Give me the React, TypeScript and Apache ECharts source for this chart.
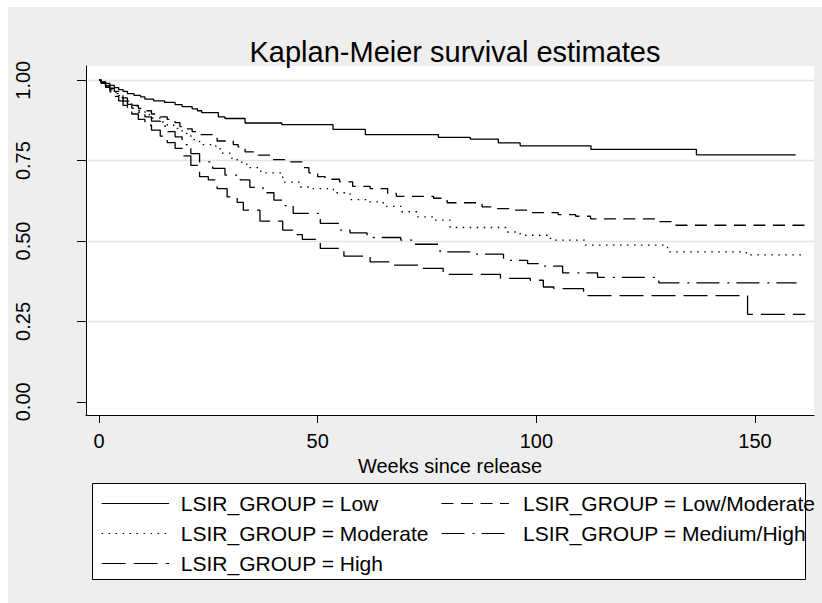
import React, { useEffect, useRef } from "react";
import * as echarts from "echarts";

const FONT = "'Liberation Sans', Arial, Helvetica, sans-serif";

const titleText = "Kaplan-Meier survival estimates";
const xAxisName = "Weeks since release";
const xTickValues = [0, 50, 100, 150];
const yTickValues = [0, 0.25, 0.5, 0.75, 1];
const yGridValues = [0.25, 0.5, 0.75, 1];
const groupNames = [
  "LSIR_GROUP = Low",
  "LSIR_GROUP = Low/Moderate",
  "LSIR_GROUP = Moderate",
  "LSIR_GROUP = Medium/High",
  "LSIR_GROUP = High",
];

// [weeks, survival] — KM step points
const lowCurve: [number, number][] = [
  [0, 1], [0.5, 0.995], [1.5, 0.99], [2.5, 0.984], [3.5, 0.977], [4.5, 0.971], [5.5, 0.965],
  [6.5, 0.958], [8, 0.953], [9.5, 0.948], [10.5, 0.941], [12.5, 0.936], [15, 0.931], [17.4, 0.924],
  [19, 0.918], [21.3, 0.911], [22.5, 0.905], [23.5, 0.899], [27.3, 0.886], [28.8, 0.881],
  [33.4, 0.867], [41.8, 0.862], [53.5, 0.847], [60.9, 0.831], [77.6, 0.822], [84.9, 0.817],
  [91.3, 0.805], [96.3, 0.796], [112.5, 0.785], [136.6, 0.768], [159.3, 0.768],
];

const lowModerateCurve: [number, number][] = [
  [0, 1], [0.5, 0.993], [1.5, 0.985], [2.5, 0.975], [3.5, 0.965], [4.5, 0.955], [5.5, 0.945],
  [6.5, 0.935], [7.5, 0.922], [9, 0.912], [10.5, 0.905], [12, 0.895], [14, 0.886], [15.6, 0.878],
  [17.4, 0.868], [18.5, 0.856], [19.7, 0.849], [21.3, 0.84], [23, 0.831], [26, 0.822], [27, 0.811],
  [30.7, 0.8], [31.8, 0.793], [33.4, 0.777], [36.4, 0.767], [39.5, 0.753], [43.3, 0.746],
  [46.5, 0.728], [48, 0.712], [50, 0.7], [51.7, 0.692], [55, 0.684], [58, 0.67], [62, 0.663],
  [66, 0.648], [68, 0.639], [76.5, 0.633], [79.6, 0.619], [87.6, 0.606], [90, 0.601], [94, 0.596],
  [98, 0.588], [105, 0.582], [109, 0.577], [112.4, 0.569], [128, 0.56], [131, 0.549], [161.5, 0.549],
];

const moderateCurve: [number, number][] = [
  [0, 1], [0.5, 0.993], [1.5, 0.984], [2.5, 0.974], [3.5, 0.963], [4.5, 0.952], [5.5, 0.942],
  [6.5, 0.932], [7.5, 0.92], [9, 0.905], [10.5, 0.893], [12, 0.882], [14, 0.87], [15.6, 0.86],
  [17.4, 0.85], [19, 0.835], [21, 0.815], [23, 0.8], [26, 0.795], [27.7, 0.773], [30, 0.758],
  [31.6, 0.745], [33.8, 0.728], [37, 0.712], [42, 0.683], [46, 0.668], [48, 0.663], [53.6, 0.65],
  [57.4, 0.629], [61.3, 0.622], [65, 0.608], [69, 0.591], [72.7, 0.575], [76.5, 0.565],
  [80.3, 0.542], [93.3, 0.528], [96.3, 0.518], [102.5, 0.508], [104, 0.503], [111, 0.487],
  [130, 0.466], [148, 0.457], [160.5, 0.457],
];

const mediumHighCurve: [number, number][] = [
  [0, 1], [0.5, 0.992], [1.5, 0.982], [2.5, 0.97], [3.5, 0.958], [4.5, 0.946], [5.5, 0.935],
  [6.5, 0.925], [7.5, 0.913], [9, 0.9], [10.5, 0.886], [12, 0.873], [14, 0.857], [15.6, 0.84],
  [17.4, 0.824], [19, 0.8], [21, 0.772], [23, 0.746], [26, 0.726], [28.8, 0.705], [32.3, 0.69],
  [34.5, 0.667], [37.5, 0.65], [40, 0.627], [42, 0.61], [44.4, 0.586], [50.6, 0.555], [55, 0.534],
  [57.4, 0.525], [61.3, 0.515], [62.7, 0.511], [69, 0.503], [72, 0.49], [78, 0.466], [85.6, 0.459],
  [92.5, 0.44], [98, 0.43], [101, 0.422], [106, 0.401], [114, 0.387], [128, 0.37], [159.5, 0.37],
];

const highCurve: [number, number][] = [
  [0, 1], [0.5, 0.99], [1.5, 0.978], [2.5, 0.964], [3.5, 0.95], [4.5, 0.936], [5.5, 0.922],
  [6.5, 0.908], [7.5, 0.895], [9, 0.878], [10.5, 0.86], [12, 0.845], [14, 0.826], [15.6, 0.806],
  [17.4, 0.788], [19, 0.765], [21, 0.735], [23, 0.7], [25, 0.69], [27, 0.663], [29.3, 0.637],
  [31.6, 0.62], [33, 0.596], [36.8, 0.562], [42, 0.534], [45.3, 0.52], [46.5, 0.505], [50.6, 0.477],
  [56, 0.453], [62, 0.435], [67.3, 0.425], [73.5, 0.415], [78.7, 0.396], [91.8, 0.384],
  [98.6, 0.378], [101.6, 0.357], [104, 0.352], [110.8, 0.33], [148.3, 0.272], [161.5, 0.272],
];

const curves = [lowCurve, lowModerateCurve, moderateCurve, mediumHighCurve, highCurve];

export default function App() {
  const ref = useRef<HTMLDivElement>(null);

  useEffect(() => {
    if (!ref.current) return;
    const chart = echarts.init(ref.current, undefined, { renderer: "svg" });

    const dashes: (number[] | null)[] = [
      null,
      [12, 7.5],
      [1.5, 5.5],
      [23, 8, 2, 7],
      [24, 8],
    ];

    const yMin = -0.041;
    const yMax = 1.0442;

    // legend layout (chart-relative pixels)
    const legBox = { x: 84.5, y: 476.5, w: 713, h: 96 };
    const rowY = [496.5, 526.5, 556.5];
    const colLineX = [93.6, 433.5];
    const lineLen = 67.5;
    const colTextX = [172.8, 515];

    const legendEls: any[] = [
      {
        type: "rect",
        shape: { x: legBox.x, y: legBox.y, width: legBox.w, height: legBox.h },
        style: { fill: "#ffffff", stroke: "#000", lineWidth: 1 },
        silent: true,
      },
    ];
    groupNames.forEach((name, i) => {
      const row = Math.floor(i / 2);
      const col = i % 2;
      const y = rowY[row];
      const lineStyle: any = { stroke: "#000", lineWidth: 1.2 };
      if (dashes[i]) lineStyle.lineDash = dashes[i];
      legendEls.push({
        type: "line",
        shape: { x1: colLineX[col], y1: y, x2: colLineX[col] + lineLen, y2: y },
        style: lineStyle,
        silent: true,
      });
      legendEls.push({
        type: "text",
        x: colTextX[col],
        y,
        style: {
          text: name,
          fontSize: 21,
          fontFamily: FONT,
          fill: "#000",
          verticalAlign: "middle",
          align: "left",
        },
        silent: true,
      });
    });

    const option: any = {
      animation: false,
      backgroundColor: "#eeeeee",
      textStyle: { fontFamily: FONT, color: "#000" },
      title: {
        text: titleText,
        left: 442,
        top: 25,
        textAlign: "center",
        textStyle: { fontSize: 29, fontWeight: "normal", color: "#000", fontFamily: FONT },
      },
      grid: {
        left: 78,
        top: 59,
        width: 728,
        height: 349,
        show: true,
        backgroundColor: "#ffffff",
        borderWidth: 0,
        containLabel: false,
      },
      xAxis: {
        type: "value",
        min: -2.973,
        max: 163.49,
        name: xAxisName,
        nameLocation: "middle",
        nameGap: 35,
        nameTextStyle: { fontSize: 20, color: "#000", fontFamily: FONT },
        axisLine: { show: true, onZero: false, lineStyle: { color: "#000", width: 1 } },
        axisTick: { show: true, length: 8, customValues: xTickValues, lineStyle: { color: "#000", width: 1 } },
        axisLabel: { customValues: xTickValues, margin: 16, fontSize: 20, color: "#000", fontFamily: FONT },
        splitLine: { show: false },
      },
      yAxis: [
        {
          type: "value",
          min: yMin,
          max: yMax,
          axisLine: { show: true, onZero: false, lineStyle: { color: "#000", width: 1 } },
          axisTick: { show: true, length: 9, customValues: yTickValues, lineStyle: { color: "#000", width: 1 } },
          axisLabel: {
            customValues: yTickValues,
            rotate: 90,
            margin: 53,
            fontSize: 20,
            color: "#000",
            fontFamily: FONT,
            formatter: (v: number) => v.toFixed(2),
          },
          splitLine: { show: false },
        },
        {
          type: "value",
          min: yMin,
          max: yMax,
          position: "left",
          axisLine: { show: false },
          axisTick: { show: false, customValues: yGridValues },
          axisLabel: { show: false, customValues: yGridValues },
          splitLine: { show: true, lineStyle: { color: "#e4e4e4", width: 1.3 } },
        },
      ],
      graphic: legendEls,
      series: groupNames.map((name, i) => ({
        type: "line",
        name,
        data: curves[i],
        step: "end",
        showSymbol: false,
        symbol: "none",
        silent: true,
        yAxisIndex: 0,
        itemStyle: { color: "#000" },
        lineStyle: { color: "#000", width: 1.3, type: dashes[i] ?? "solid" },
      })),
    };

    chart.setOption(option);
    return () => chart.dispose();
  }, []);

  return (
    <div
      ref={ref}
      style={{ position: "fixed", left: 8, top: 7, width: 814, height: 596 }}
    />
  );
}
